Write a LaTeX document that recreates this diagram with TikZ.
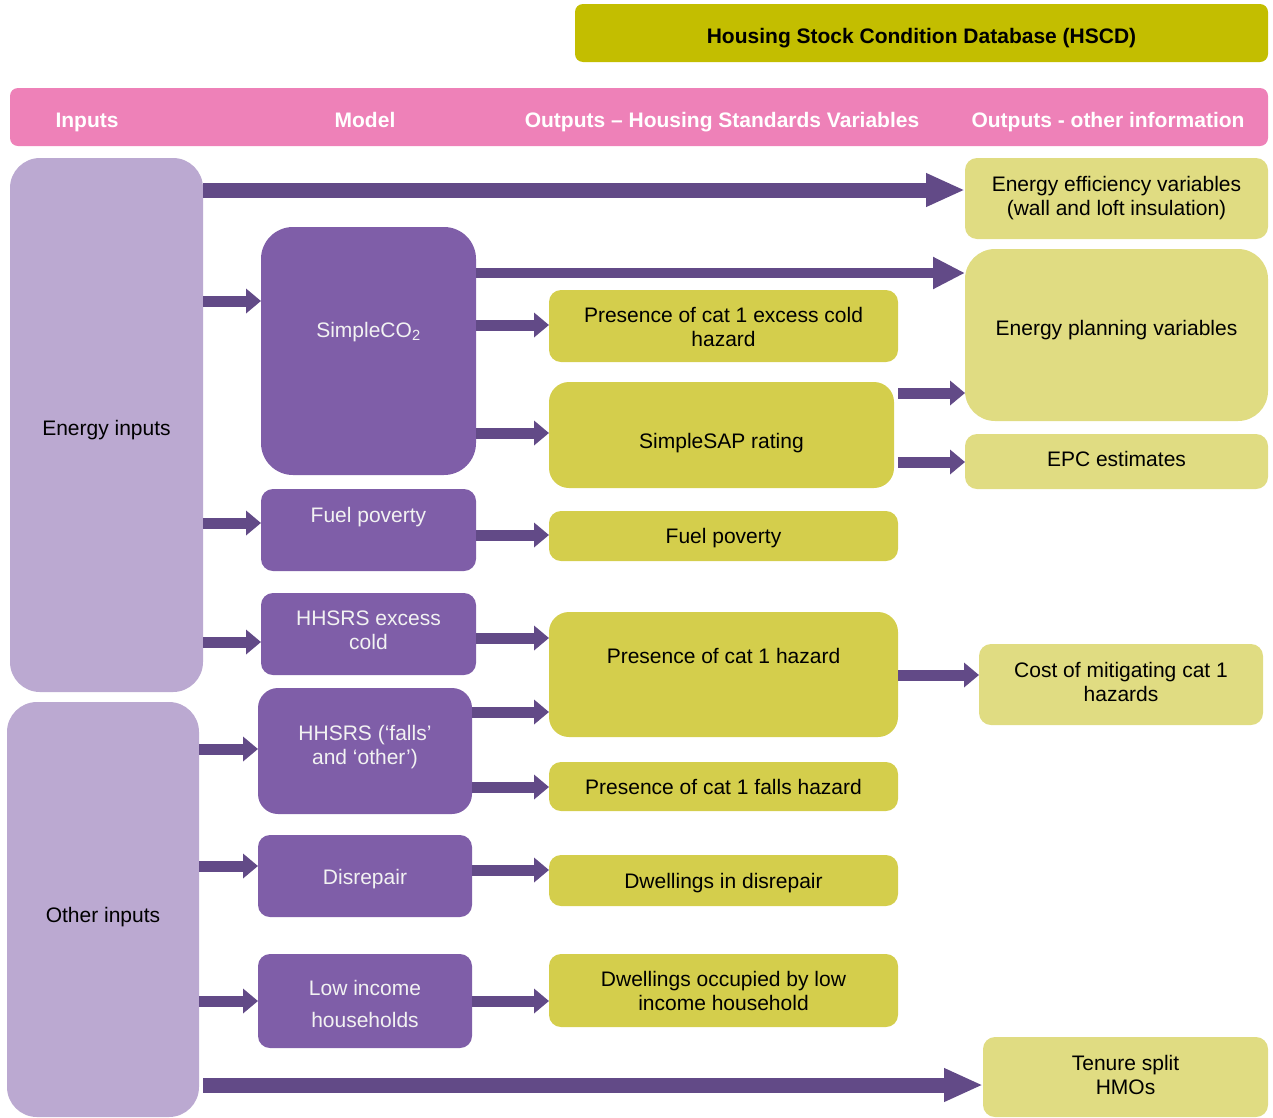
\documentclass[tikz,border=0pt]{standalone}
\usepackage{fontspec}
\setmainfont{Liberation Sans}
\usetikzlibrary{arrows.meta}
\definecolor{hscdOlive}{HTML}{C3BE00}
\definecolor{headPink}{HTML}{EE81B8}
\definecolor{inLilac}{HTML}{BBA9D1}
\definecolor{modPurple}{HTML}{7F5EA8}
\definecolor{arrPurple}{HTML}{624A87}
\definecolor{hsvYellow}{HTML}{D4CE4C}
\definecolor{othYellow}{HTML}{E0DC82}
\tikzset{
  hscdfig/.style={
    x=1pt, y=-1pt,
    every node/.append style={font=\fontsize{21}{24}\selectfont},
  },
  blockbox/.style={
    rounded corners=12pt, inner sep=0pt, outer sep=0pt, align=center,
    text height=15pt, text depth=0pt,
  },
  hscdbar/.style={blockbox, fill=hscdOlive, rounded corners=8pt,
    font=\fontsize{21}{24}\selectfont\bfseries},
  headbar/.style={blockbox, fill=headPink, rounded corners=8pt},
  headlabel/.style={text=white, inner sep=0pt, text height=15pt, text depth=0pt,
    font=\fontsize{21}{24}\selectfont\bfseries},
  inbox/.style={blockbox, fill=inLilac, rounded corners=30pt},
  modbox/.style={blockbox, fill=modPurple, text=white!95!black},
  hsvbox/.style={blockbox, fill=hsvYellow},
  othbox/.style={blockbox, fill=othYellow},
  % zweizeilige Beschriftung: Grundlinie = letzte Zeile, Hoehe = 39pt - 2*Versatz
  twoline/.style={text height=#1, text depth=0pt},
  twoline/.default=39pt,
  % Blockpfeile in drei Stärken
  fat/.style={draw=arrPurple, line width=11pt, -{Triangle[length=15pt, width=24pt]}},
  longfat/.style={draw=arrPurple, line width=15pt, -{Triangle[length=39pt, width=31pt]}},
  slimlong/.style={draw=arrPurple, line width=10pt, -{Triangle[length=32pt, width=30pt]}},
}

\begin{document}
\begin{tikzpicture}[hscdfig]
  \useasboundingbox (0,0) rectangle (1273,1117);
  % Kopf
  \node[hscdbar, minimum width=693pt, minimum height=58pt, text height=21pt] (HSCD) at (921.5,33) {Housing Stock Condition Database (HSCD)};
  \node[headbar, minimum width=1258pt, minimum height=58pt] (Header) at (639,117) {};
  \node[headlabel] (HeadInputs) at (87,120) {Inputs};
  \node[headlabel] (HeadModel) at (365,120) {Model};
  \node[headlabel] (HeadHSV) at (722,120) {Outputs – Housing Standards Variables};
  \node[headlabel] (HeadOther) at (1108,120) {Outputs - other information};
  % Eingaben
  \node[inbox, minimum width=193pt, minimum height=534pt, text height=21pt] (EnergyIn) at (106.5,425) {Energy inputs};
  \node[inbox, minimum width=192pt, minimum height=415pt, text height=26pt] (OtherIn) at (103,909.5) {Other inputs};
  % Modelle
  \node[modbox, rounded corners=32pt, minimum width=215pt, minimum height=248pt, text depth=42pt] (SimpleCO) at (368.5,351) {SimpleCO\textsubscript{2}};
  \node[modbox, minimum width=215pt, minimum height=82pt, text depth=30pt] (FuelModel) at (368.5,530) {Fuel poverty};
  \node[modbox, twoline=31pt, minimum width=215pt, minimum height=82pt] (ColdModel) at (368.5,634) {HHSRS excess\\cold};
  \node[modbox, twoline=27pt, rounded corners=20pt, minimum width=214pt, minimum height=126pt] (FallsModel) at (365,751) {HHSRS (‘falls’\\and ‘other’)};
  \node[modbox, minimum width=214pt, minimum height=82pt, text height=17pt] (DisrepModel) at (365,876) {Disrepair};
  \node[modbox, twoline=53pt, minimum width=214pt, minimum height=94pt] (LowIncModel) at (365,1001) {Low income\\[8pt]households};
  % Ausgaben: Housing Standards Variables
  \node[hsvbox, twoline=41pt, minimum width=349pt, minimum height=72pt] (CatCold) at (723.5,326) {Presence of cat 1 excess cold\\hazard};
  \node[hsvbox, rounded corners=20pt, minimum width=345pt, minimum height=106pt, text height=27pt] (SimpleSAP) at (721.5,435) {SimpleSAP rating};
  \node[hsvbox, minimum width=349pt, minimum height=50pt] (FuelOut) at (723.5,536) {Fuel poverty};
  \node[hsvbox, rounded corners=20pt, minimum width=349pt, minimum height=125pt, text depth=37pt] (CatHaz) at (723.5,674.5) {Presence of cat 1 hazard};
  \node[hsvbox, minimum width=349pt, minimum height=49pt] (FallsOut) at (723.5,786.5) {Presence of cat 1 falls hazard};
  \node[hsvbox, minimum width=349pt, minimum height=51pt] (DisrepOut) at (723.5,880.5) {Dwellings in disrepair};
  \node[hsvbox, twoline, minimum width=349pt, minimum height=73pt] (LowIncOut) at (723.5,990.5) {Dwellings occupied by low\\income household};
  % Ausgaben: sonstige Informationen
  \node[othbox, twoline=34pt, minimum width=303pt, minimum height=81pt] (EnergyEff) at (1116.5,198.5) {Energy efficiency variables\\(wall and loft insulation)};
  \node[othbox, rounded corners=30pt, minimum width=303pt, minimum height=172pt, text depth=14pt] (EnergyPlan) at (1116.5,335) {Energy planning variables};
  \node[othbox, minimum width=303pt, minimum height=55pt, text depth=5pt] (EPC) at (1116.5,461.5) {EPC estimates};
  \node[othbox, twoline=33pt, minimum width=284pt, minimum height=81pt] (Cost) at (1121,684.5) {Cost of mitigating cat 1\\hazards};
  \node[othbox, twoline=35pt, minimum width=285pt, minimum height=80pt] (Tenure) at (1125.5,1077) {Tenure split\\HMOs};
  % Pfeile
  \draw[longfat] (EnergyIn.east |- 0,190) -- (EnergyEff.west |- 0,190);
  \draw[fat] (EnergyIn.east |- 0,301) -- (SimpleCO.west |- 0,301);
  \draw[slimlong] (SimpleCO.east |- 0,273) -- (EnergyPlan.west |- 0,273);
  \draw[fat] (SimpleCO.east |- 0,325) -- (CatCold.west |- 0,325);
  \draw[fat] (SimpleCO.east |- 0,433) -- (SimpleSAP.west |- 0,433);
  \draw[fat] (CatCold.east |- 0,393) -- (EnergyPlan.west |- 0,393);
  \draw[fat] (CatCold.east |- 0,462) -- (EPC.west |- 0,462);
  \draw[fat] (EnergyIn.east |- 0,523) -- (FuelModel.west |- 0,523);
  \draw[fat] (FuelModel.east |- 0,535) -- (FuelOut.west |- 0,535);
  \draw[fat] (EnergyIn.east |- 0,642) -- (ColdModel.west |- 0,642);
  \draw[fat] (ColdModel.east |- 0,638) -- (CatHaz.west |- 0,638);
  \draw[fat] (CatHaz.east |- 0,675) -- (Cost.west |- 0,675);
  \draw[fat] (OtherIn.east |- 0,749) -- (FallsModel.west |- 0,749);
  \draw[fat] (FallsModel.east |- 0,712) -- (CatHaz.west |- 0,712);
  \draw[fat] (FallsModel.east |- 0,787) -- (FallsOut.west |- 0,787);
  \draw[fat] (OtherIn.east |- 0,866) -- (DisrepModel.west |- 0,866);
  \draw[fat] (DisrepModel.east |- 0,870) -- (DisrepOut.west |- 0,870);
  \draw[fat] (OtherIn.east |- 0,1001) -- (LowIncModel.west |- 0,1001);
  \draw[fat] (LowIncModel.east |- 0,1001) -- (LowIncOut.west |- 0,1001);
  \draw[longfat] (EnergyIn.east |- 0,1085) -- (Tenure.west |- 0,1085);
\end{tikzpicture}
\end{document}
